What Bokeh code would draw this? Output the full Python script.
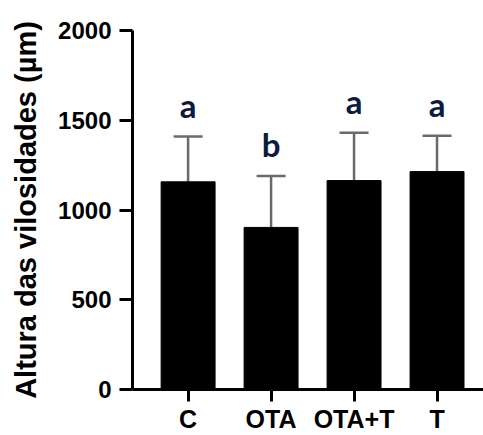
from bokeh.plotting import figure
from bokeh.models import ColumnDataSource, Range1d, FixedTicker, Whisker, TeeHead
from bokeh.core.properties import value
from bokeh.embed import file_html
from bokeh.resources import INLINE

categories = ["C", "OTA", "OTA+T", "T"]
means = [1157, 903, 1164, 1214]
sds = [252, 286, 267, 200]
letters = ["a", "b", "a", "a"]
y_ticks = [0, 500, 1000, 1500, 2000]

xs = list(range(len(categories)))
uppers = [m + s for m, s in zip(means, sds)]

src = ColumnDataSource(dict(x=xs, mean=means, upper=uppers, letter=letters))

p = figure(width=483, height=435, output_backend="svg", toolbar_location=None,
           x_range=Range1d(-0.67, 3.56), y_range=Range1d(0, 2000),
           min_border_left=132, min_border_top=30, min_border_bottom=44,
           min_border_right=0)
p.outline_line_color = None
p.xgrid.visible = False
p.ygrid.visible = False
p.background_fill_color = "white"
p.border_fill_color = "white"

p.vbar(x="x", top="mean", bottom=0, width=0.65, source=src,
       fill_color="black", line_color="black")

wh = Whisker(base="x", upper="upper", lower="mean", source=src,
             line_color="#6a6a6a", line_width=2.5,
             upper_head=TeeHead(size=29, line_color="#6a6a6a", line_width=2.5),
             lower_head=None)
p.add_layout(wh)

p.text(x="x", y="upper", text="letter", source=src, y_offset=-32,
       text_align="center", text_baseline="alphabetic",
       text_font=value("Lato"), text_font_style="bold",
       text_font_size="33px", text_color="#0d1a40")

# y axis
ya = p.yaxis[0]
ya.ticker = FixedTicker(ticks=y_ticks)
ya.minor_tick_line_color = None
ya.axis_line_width = 3
ya.major_tick_line_width = 3
ya.major_tick_out = 13
ya.major_tick_in = 0
ya.major_label_standoff = 8
ya.major_label_text_font = "Liberation Sans"
ya.major_label_text_font_style = "bold"
ya.major_label_text_font_size = "24px"
ya.major_label_text_color = "black"
ya.axis_label = "Altura das vilosidades (µm)"
ya.axis_label_text_font = "Liberation Sans"
ya.axis_label_text_font_style = "bold"
ya.axis_label_text_font_size = "29px"
ya.axis_label_text_color = "black"
ya.axis_label_standoff = 13

# x axis
xa = p.xaxis[0]
xa.ticker = FixedTicker(ticks=xs)
xa.major_label_overrides = {i: c for i, c in zip(xs, categories)}
xa.minor_tick_line_color = None
xa.axis_line_width = 3
xa.major_tick_line_width = 3
xa.major_tick_out = 12
xa.major_tick_in = 0
xa.major_label_standoff = 3
xa.major_label_text_font = "Liberation Sans"
xa.major_label_text_font_style = "bold"
xa.major_label_text_font_size = "25px"
xa.major_label_text_color = "black"

open("out.html", "w").write(file_html(p, INLINE))
